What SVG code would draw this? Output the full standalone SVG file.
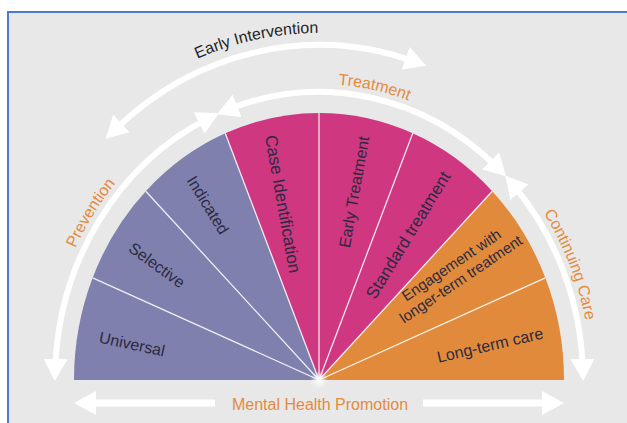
<svg xmlns="http://www.w3.org/2000/svg" width="627" height="423" viewBox="0 0 627 423">
<style>
.seg{font-family:"Liberation Sans",Arial,sans-serif;fill:#2b2a40;text-anchor:middle}
.arcl{font-family:"Liberation Sans",Arial,sans-serif;font-size:16px;fill:#e38b3e;text-anchor:middle}
.eil{font-family:"Liberation Sans",Arial,sans-serif;font-size:16px;fill:#262626;text-anchor:middle}
.arc{fill:none;stroke:#fff;stroke-width:6;marker-start:url(#ah);marker-end:url(#ah)}
.div{stroke:#fff;stroke-width:1.3;stroke-opacity:0.85}
.purple{fill:#8080af}
.pink{fill:#cf3781}
.orange{fill:#e28a3b}
</style>
<defs>
<marker id="ah" viewBox="0 0 22 24" refX="11" refY="12" markerWidth="22" markerHeight="24" markerUnits="userSpaceOnUse" orient="auto-start-reverse">
<path d="M0,0 L22,12 L0,24 Z" fill="#fff"/>
</marker>
<path id="lp" d="M47,380 A272,296 0 0 1 591,380"/>
<path id="ep" d="M-3,380 A322,347 0 0 1 641,380"/>
<radialGradient id="glow">
<stop offset="0" stop-color="#fff" stop-opacity="1"/>
<stop offset="1" stop-color="#fff" stop-opacity="0"/>
</radialGradient>
</defs>
<rect x="0" y="0" width="627" height="423" fill="#fff"/>
<rect x="8" y="12" width="640" height="440" fill="#e8e8e8" stroke="#4a7bd3" stroke-width="2"/>

<g id="universal">
<path class="purple" d="M319,380 L74,380 A245,267 0 0 1 92.65,277.82 Z"/>
<text class="seg" font-size="16" dy="0.35em" transform="translate(132,344) rotate(12)">Universal</text>
</g>
<g id="selective">
<path class="purple" d="M319,380 L92.65,277.82 A245,267 0 0 1 145.76,191.2 Z"/>
<text class="seg" font-size="16" dy="0.35em" transform="translate(157,265) rotate(36)">Selective</text>
</g>
<g id="indicated">
<path class="purple" d="M319,380 L145.76,191.2 A245,267 0 0 1 225.24,133.32 Z"/>
<text class="seg" font-size="16" dy="0.35em" transform="translate(208,205) rotate(58.5)">Indicated</text>
</g>
<g id="case-identification">
<path class="pink" d="M319,380 L225.24,133.32 A245,267 0 0 1 319,113 Z"/>
<text class="seg" font-size="17" dy="0.35em" transform="translate(283,204) rotate(80)">Case Identification</text>
</g>
<g id="early-treatment">
<path class="pink" d="M319,380 L319,113 A245,267 0 0 1 412.76,133.32 Z"/>
<text class="seg" font-size="16" dy="0.35em" transform="translate(354,192) rotate(-80)">Early Treatment</text>
</g>
<g id="standard-treatment">
<path class="pink" d="M319,380 L412.76,133.32 A245,267 0 0 1 492.24,191.2 Z"/>
<text class="seg" font-size="17" dy="0.35em" transform="translate(408,235) rotate(-58.5)">Standard treatment</text>
</g>
<g id="engagement">
<path class="orange" d="M319,380 L492.24,191.2 A245,267 0 0 1 545.35,277.82 Z"/>
<g transform="translate(456,272) rotate(-34)">
<text class="seg" font-size="15" y="-3.2">Engagement with</text>
<text class="seg" font-size="15" y="13.8">longer-term treatment</text>
</g>
</g>
<g id="long-term-care">
<path class="orange" d="M319,380 L545.35,277.82 A245,267 0 0 1 564,380 Z"/>
<text class="seg" font-size="16" dy="0.35em" transform="translate(490,345) rotate(-13)">Long-term care</text>
</g>

<g id="dividers">
<line class="div" x1="319" y1="380" x2="92.65" y2="277.82"/>
<line class="div" x1="319" y1="380" x2="145.76" y2="191.2"/>
<line class="div" x1="319" y1="380" x2="225.24" y2="133.32"/>
<line class="div" x1="319" y1="380" x2="319" y2="113"/>
<line class="div" x1="319" y1="380" x2="412.76" y2="133.32"/>
<line class="div" x1="319" y1="380" x2="492.24" y2="191.2"/>
<line class="div" x1="319" y1="380" x2="545.35" y2="277.82"/>
<circle cx="319" cy="380" r="9" fill="url(#glow)"/>
</g>

<g id="connectors">
<path id="prevention-arc" class="arc" d="M55.16,369.95 A264,288 0 0 1 209.1,118.15"/>
<path id="treatment-arc" class="arc" d="M226.97,110.06 A264,288 0 0 1 498.36,168.69"/>
<path id="continuing-arc" class="arc" d="M512.38,183.96 A264,288 0 0 1 582.84,369.95"/>
<path id="early-intervention-arc" class="arc" d="M113.58,131.06 A307,335 0 0 1 415.89,62.12"/>
<g id="promotion-arrow" fill="#fff">
<rect x="92" y="399.5" width="123" height="7"/>
<rect x="423" y="399.5" width="123" height="7"/>
<path d="M74,403 L96,391 L96,415 Z"/>
<path d="M564,403 L542,391 L542,415 Z"/>
</g>
<text class="arcl"><textPath href="#lp" startOffset="19.5%">Prevention</textPath></text>
<text class="arcl"><textPath href="#lp" startOffset="56.2%">Treatment</textPath></text>
<text class="arcl"><textPath href="#lp" startOffset="86.8%">Continuing Care</textPath></text>
<text class="eil"><textPath href="#ep" startOffset="44%">Early Intervention</textPath></text>
<text class="arcl" x="320" y="409.5">Mental Health Promotion</text>
</g>
</svg>
